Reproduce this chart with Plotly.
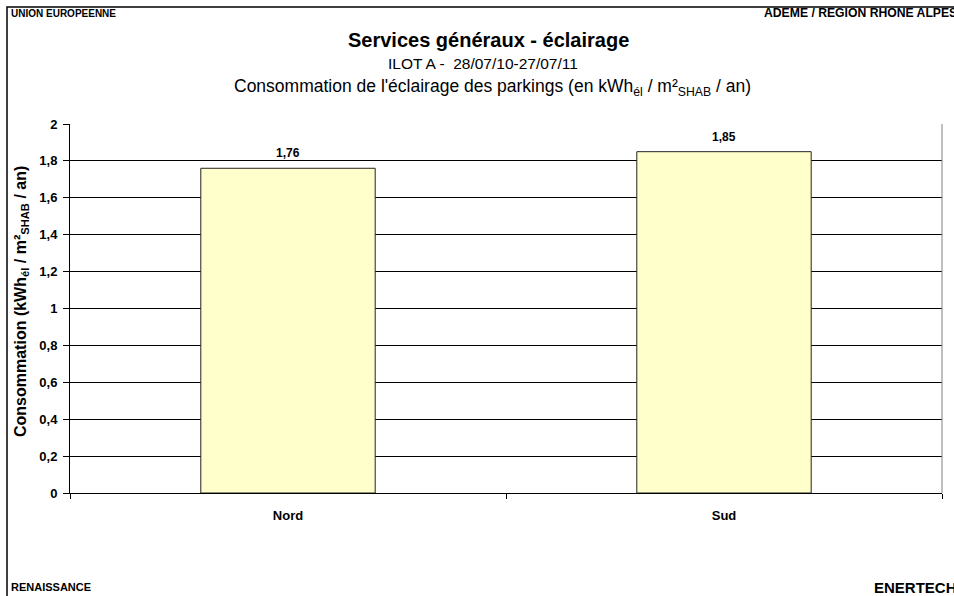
import plotly.graph_objects as go

# Consumption of car-park lighting per zone
categories = ["Nord", "Sud"]
values = [1.76, 1.85]
y_ticks = [0, 0.2, 0.4, 0.6, 0.8, 1, 1.2, 1.4, 1.6, 1.8, 2]

FONT = "Arial, 'Liberation Sans', sans-serif"

W, H = 954, 596
ML, MR, MT, MB = 70, 12, 124, 103
PW, PH = W - ML - MR, H - MT - MB


def px(xp):
    return (xp - ML) / PW


def py(yp):
    return 1 - (yp - MT) / PH


def fmt(v):
    return f"{v:.2f}".replace(".", ",")


def tick_fmt(v):
    s = f"{v:.1f}".replace(".", ",")
    return s[:-2] if s.endswith(",0") else s


fig = go.Figure()
fig.add_trace(go.Bar(
    x=categories,
    y=values,
    marker=dict(color="#FFFFCC", line=dict(color="#222222", width=1)),
    width=0.4,
    hoverinfo="skip",
))

annotations = []
# value labels above the bars
for c, v in zip(categories, values):
    annotations.append(dict(
        x=c, y=v, xref="x", yref="y", text=f"<b>{fmt(v)}</b>", showarrow=False,
        yanchor="bottom", yshift=6,
        font=dict(family=FONT, size=12, color="black"),
    ))

# titles
annotations += [
    dict(x=px(488), y=py(40), xref="paper", yref="paper", showarrow=False,
         text="<b>Services généraux - éclairage</b>", yanchor="middle",
         font=dict(family=FONT, size=20, color="black")),
    dict(x=px(483), y=py(63), xref="paper", yref="paper", showarrow=False,
         text="ILOT A -  28/07/10-27/07/11", yanchor="middle",
         font=dict(family=FONT, size=15.5, color="black")),
    dict(x=px(492), y=py(88), xref="paper", yref="paper", showarrow=False,
         text="Consommation de l'éclairage des parkings (en kWh<sub>él</sub> / m²<sub>SHAB</sub> / an)",
         yanchor="middle",
         font=dict(family=FONT, size=17.5, color="black")),
    # y-axis title
    dict(x=px(21), y=py(302), xref="paper", yref="paper", showarrow=False,
         text="<b>Consommation (kWh<sub>él</sub> / m²<sub>SHAB</sub> / an)</b>",
         textangle=-90, xanchor="center", yanchor="middle",
         font=dict(family=FONT, size=16, color="black")),
    # corner labels
    dict(x=px(9), y=py(13), xref="paper", yref="paper", showarrow=False,
         text="<b>UNION EUROPEENNE</b>", xanchor="left", yanchor="middle",
         font=dict(family=FONT, size=10, color="black")),
    dict(x=px(762), y=py(13), xref="paper", yref="paper", showarrow=False,
         text="<b>ADEME / REGION RHONE ALPES</b>", xanchor="left", yanchor="middle",
         font=dict(family=FONT, size=12.2, color="black")),
    dict(x=px(9), y=py(587), xref="paper", yref="paper", showarrow=False,
         text="<b>RENAISSANCE</b>", xanchor="left", yanchor="middle",
         font=dict(family=FONT, size=11, color="black")),
    dict(x=px(872), y=py(587), xref="paper", yref="paper", showarrow=False,
         text="<b>ENERTECH</b>", xanchor="left", yanchor="middle",
         font=dict(family=FONT, size=15, color="black")),
]

shapes = [
    # outer frame of the chart sheet
    dict(type="rect", xref="paper", yref="paper",
         x0=px(7), y0=py(700), x1=px(1100), y1=py(7),
         line=dict(color="black", width=1.5), fillcolor="rgba(0,0,0,0)", layer="below"),
    # right border of plot area
    dict(type="line", xref="paper", yref="paper", x0=1, x1=1, y0=0, y1=1,
         line=dict(color="#808080", width=1)),
]

fig.update_layout(
    width=W, height=H,
    margin=dict(l=ML, r=MR, t=MT, b=MB, pad=0),
    paper_bgcolor="white", plot_bgcolor="white",
    separators=", ",
    showlegend=False,
    font=dict(family=FONT, color="black"),
    annotations=annotations,
    shapes=shapes,
    bargap=0.6,
)

fig.update_yaxes(
    range=[0, 2], tickvals=y_ticks, ticktext=[f"<b>{tick_fmt(v)}</b>" for v in y_ticks],
    showgrid=True, gridcolor="black", gridwidth=1,
    showline=True, linecolor="black", linewidth=1,
    ticks="outside", ticklen=6, tickcolor="black",
    tickfont=dict(family=FONT, size=13, color="black"),
    ticklabelstandoff=3,
    zeroline=False, fixedrange=True,
)
fig.update_xaxes(
    type="category",
    showline=True, linecolor="black", linewidth=1,
    ticks="outside", ticklen=5, tickcolor="black", tickson="boundaries",
    tickvals=categories, ticktext=[f"<b>{c}</b>" for c in categories],
    tickfont=dict(family=FONT, size=13, color="black"),
    ticklabelstandoff=10,
    showgrid=False, fixedrange=True,
)

fig.write_html("out.html")
